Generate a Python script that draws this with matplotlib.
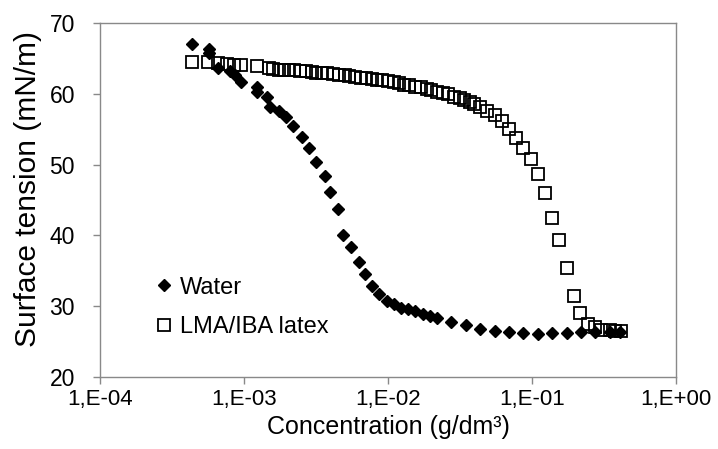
import matplotlib
matplotlib.use("Agg")
import matplotlib.pyplot as plt

plt.rcParams['font.family'] = ['Liberation Sans', 'DejaVu Sans']

# Water (diamonds): concentration in g/dm3, surface tension in mN/m
water_conc = [4.37e-4, 5.75e-4, 5.75e-4, 6.61e-4, 7.94e-4, 8.71e-4, 9.55e-4,
              1.23e-3, 1.23e-3, 1.45e-3, 1.51e-3, 1.74e-3, 1.95e-3, 2.19e-3,
              2.51e-3, 2.82e-3, 3.16e-3, 3.63e-3, 3.98e-3, 4.47e-3, 4.90e-3,
              5.50e-3, 6.31e-3, 6.92e-3, 7.76e-3, 8.71e-3, 9.77e-3, 1.10e-2,
              1.23e-2, 1.38e-2, 1.55e-2, 1.74e-2, 1.95e-2, 2.19e-2, 2.75e-2,
              3.47e-2, 4.37e-2, 5.50e-2, 6.92e-2, 8.71e-2, 0.110, 0.138,
              0.174, 0.219, 0.275, 0.347, 0.407]
water_st = [67.0, 66.3, 65.8, 63.6, 63.2, 62.7, 61.7,
            60.9, 60.3, 59.5, 58.2, 57.6, 56.7, 55.4,
            53.9, 52.3, 50.4, 48.4, 46.1, 43.7, 40.1,
            38.3, 36.3, 34.5, 32.9, 31.7, 30.8, 30.3,
            29.8, 29.6, 29.3, 28.9, 28.6, 28.4, 27.8,
            27.3, 26.8, 26.5, 26.3, 26.2, 26.1, 26.2,
            26.2, 26.3, 26.3, 26.3, 26.3]

# LMA/IBA latex (open squares)
latex_conc = [4.37e-4, 5.62e-4, 6.61e-4, 7.59e-4, 8.51e-4, 9.55e-4, 1.23e-3,
              1.48e-3, 1.58e-3, 1.74e-3, 1.91e-3, 2.04e-3, 2.24e-3, 2.45e-3,
              2.69e-3, 2.95e-3, 3.16e-3, 3.47e-3, 3.80e-3, 4.17e-3, 4.57e-3,
              5.01e-3, 5.37e-3, 5.89e-3, 6.46e-3, 7.08e-3, 7.76e-3, 8.32e-3,
              9.12e-3, 1.00e-2, 1.10e-2, 1.20e-2, 1.29e-2, 1.41e-2, 1.55e-2,
              1.70e-2, 1.86e-2, 2.00e-2, 2.19e-2, 2.40e-2, 2.63e-2, 2.88e-2,
              3.16e-2, 3.39e-2, 3.72e-2, 3.98e-2, 4.37e-2, 4.90e-2, 5.50e-2,
              6.17e-2, 6.92e-2, 7.76e-2, 8.71e-2, 9.77e-2, 0.110, 0.123,
              0.138, 0.155, 0.174, 0.195, 0.214, 0.245, 0.275, 0.302,
              0.347, 0.380, 0.417]
latex_st = [64.5, 64.5, 64.3, 64.2, 64.1, 64.1, 63.9,
            63.6, 63.5, 63.4, 63.4, 63.3, 63.3, 63.2,
            63.2, 63.1, 63.0, 62.9, 62.9, 62.8, 62.7,
            62.6, 62.5, 62.4, 62.3, 62.2, 62.1, 62.0,
            61.9, 61.8, 61.6, 61.5, 61.3, 61.2, 61.0,
            60.9, 60.7, 60.5, 60.3, 60.1, 59.9, 59.6,
            59.4, 59.1, 58.8, 58.5, 58.1, 57.6, 57.0,
            56.1, 55.0, 53.8, 52.4, 50.8, 48.6, 46.0,
            42.4, 39.4, 35.4, 31.4, 29.0, 27.5, 27.0, 26.7,
            26.6, 26.5, 26.5]

x_ticks = [1e-4, 1e-3, 1e-2, 1e-1, 1e0]
x_tick_labels = ["1,E-04", "1,E-03", "1,E-02", "1,E-01", "1,E+00"]
y_ticks = [20, 30, 40, 50, 60, 70]

grey = "#898989"

fig = plt.figure(figsize=(7.18, 4.49), dpi=100)
ax = fig.add_axes([0.1393, 0.1604, 0.8022, 0.7884])

ax.plot(water_conc, water_st, linestyle="none", marker="D", markersize=6.3,
        color="black", label="Water", zorder=3)
ax.plot(latex_conc, latex_st, linestyle="none", marker="s", markersize=8.5,
        markerfacecolor="none", markeredgecolor="black", markeredgewidth=1.3,
        label="LMA/IBA latex", zorder=4)

ax.set_xscale("log")
ax.set_xlim(1e-4, 1e0)
ax.set_ylim(20, 70)
ax.set_xticks(x_ticks)
ax.set_xticklabels(x_tick_labels)
ax.minorticks_off()
ax.set_yticks(y_ticks)

for s in ax.spines.values():
    s.set_color(grey)
    s.set_linewidth(1.0)

ax.tick_params(axis="x", direction="out", length=5, width=1.0, color=grey,
               labelsize=16, pad=4)
ax.tick_params(axis="y", direction="out", length=5, width=1.0, color=grey,
               labelsize=16.5, pad=13)

ax.set_xlabel("Concentration (g/dm³)", fontsize=18, labelpad=3)
ax.set_ylabel("Surface tension (mN/m)", fontsize=21.5)
ax.yaxis.set_label_coords(-0.10, 0.53)

ax.legend(loc="upper left", bbox_to_anchor=(0.083, 0.31), frameon=False,
          fontsize=17, handlelength=0.6, handletextpad=0.35,
          labelspacing=0.75, borderaxespad=0)

fig.savefig("out.png", dpi=100)
